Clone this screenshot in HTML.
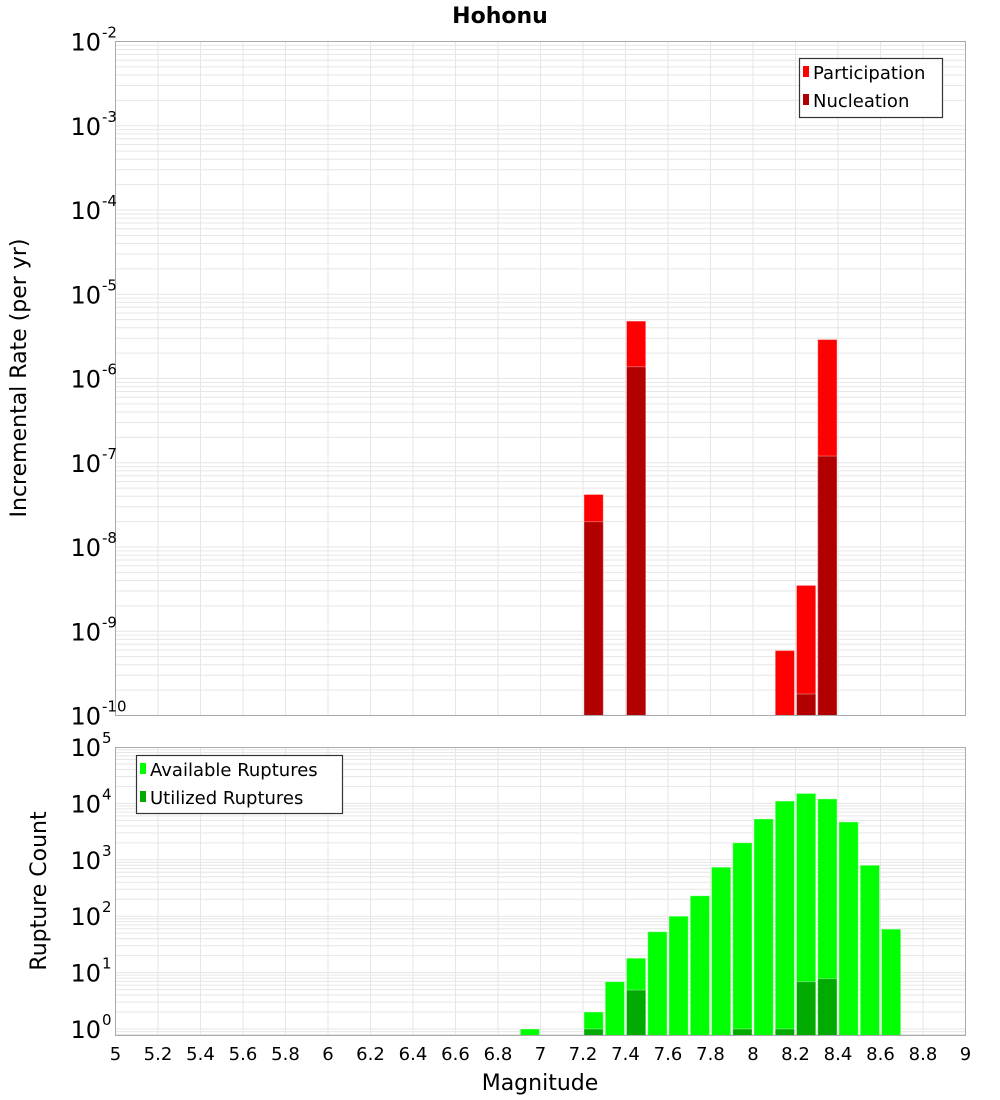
<!DOCTYPE html>
<html><head><meta charset="utf-8"><style>
body{margin:0;background:#fff;}
svg{display:block;font-family:"DejaVu Sans","Liberation Sans",sans-serif;}
</style></head><body>
<svg id="chart" width="1000" height="1100" viewBox="0 0 1000 1100" xmlns="http://www.w3.org/2000/svg">
<text x="500" y="23" text-anchor="middle" font-size="22" font-weight="bold">Hohonu</text>
<g id="top"></g><g id="bot"></g>
<text transform="translate(26,378) rotate(-90)" text-anchor="middle" font-size="22">Incremental Rate (per yr)</text>
<text transform="translate(46,891) rotate(-90)" text-anchor="middle" font-size="22">Rupture Count</text>
<text x="540" y="1090" text-anchor="middle" font-size="22">Magnitude</text>
</svg>
<script>
const partMags=[7.25,7.45,8.15,8.25,8.35];
const partVals=[4.2e-8,4.8e-6,5.9e-10,3.5e-9,2.9e-6];
const nucMags=[7.25,7.45,8.25,8.35];
const nucVals=[2.0e-8,1.38e-6,1.8e-10,1.2e-7];
const availMags=[6.95,7.25,7.35,7.45,7.55,7.65,7.75,7.85,7.95,8.05,8.15,8.25,8.35,8.45,8.55,8.65];
const availVals=[1,2,6.9,18,53,100,230,740,2000,5300,11000,15000,12000,4700,800,59];
const utilMags=[7.25,7.45,7.95,8.15,8.25,8.35];
const utilVals=[1,4.9,1,1,6.9,7.8];
const xTicks=["5","5.2","5.4","5.6","5.8","6","6.2","6.4","6.6","6.8","7","7.2","7.4","7.6","7.8","8","8.2","8.4","8.6","8.8","9"];
const topExps=[-2,-3,-4,-5,-6,-7,-8,-9,-10];
const botExps=[5,4,3,2,1,0];

const NS="http://www.w3.org/2000/svg";
const X0=115.5,X1=965.5;
const xs=m=>X0+(m-5)/4*(X1-X0);
function el(p,t,a){const e=document.createElementNS(NS,t);for(const k in a)e.setAttribute(k,a[k]);p.appendChild(e);return e;}
function panel(g,top,bottom,yOfExp,minE,maxE,name){
  // grid
  for(let e=Math.floor(minE);e<maxE;e++){for(let k=1;k<10;k++){const y=yOfExp(e+Math.log10(k));if(y<top-0.5||y>bottom+0.5)continue;
    const l=el(g,"line",{x1:X0,x2:X1,y1:y,y2:y,stroke:"#e6e6e6","stroke-width":1});
    
    }}
  xTicks.forEach(t=>{const x=xs(parseFloat(t));
    const l=el(g,"line",{x1:x,x2:x,y1:top,y2:bottom,stroke:"#e6e6e6","stroke-width":1});
    
    });
}
function bars(g,mags,vals,yOf,bottom,color,name){
  mags.forEach((m,i)=>{const y=yOf(vals[i]);const x=xs(m-0.05)+1,w=xs(m+0.05)-xs(m-0.05)-2;
    const r=el(g,"rect",{x:x,y:y,width:w,height:bottom-y,fill:color,stroke:"rgba(255,255,255,0.35)","stroke-width":1});
    
    });
}
function frame(g,top,bottom,name){
  const r=el(g,"rect",{x:X0,y:top,width:X1-X0,height:bottom-top,fill:"none",stroke:"#aaa","stroke-width":1});
  
  
}
function ylabel(g,y,e,name){
  const t=el(g,"text",{x:101,y:y+9,"text-anchor":"end","font-size":24});t.textContent="10";
  
  
  const s=el(g,"text",{x:102,y:y-4,"font-size":15});s.textContent=String(e);
  
  
}
// top panel
const T0=41.5,T1=715.5;
const tyE=e=>T0+(-2-e)*((T1-T0)/8);
const ty=v=>tyE(Math.log10(v));
const gt=document.getElementById("top");
panel(gt,T0,T1,tyE,-10,-2,"top");
bars(gt,partMags,partVals,ty,T1,"#ff0000","participation-bar");
bars(gt,nucMags,nucVals,ty,T1,"#b20000","nucleation-bar");
frame(gt,T0,T1,"top");
topExps.forEach(e=>ylabel(gt,tyE(e),e,"top"));
// legend top
(function(){const lg=el(gt,"g",{});
 el(lg,"rect",{x:799.5,y:58.5,width:143,height:59,fill:"#fff",stroke:"#333","stroke-width":1.2});
 [["Participation","#ff0000",73],["Nucleation","#b20000",101]].forEach(([n,c,y])=>{
  const s=el(lg,"rect",{x:803,y:y-7,width:6,height:11,fill:c});
  
  const t=el(lg,"text",{x:813,y:y+6,"font-size":18});t.textContent=n;
  });})();
// bottom panel
const B0=747.5,B1=1035.5,BD=56.4;
const byE=e=>1029-e*BD;
const by=v=>byE(Math.log10(v));
const gb=document.getElementById("bot");
panel(gb,B0,B1,byE,-1,5,"bottom");
bars(gb,availMags,availVals,by,B1,"#00ff00","available-bar");
bars(gb,utilMags,utilVals,by,B1,"#00aa00","utilized-bar");
frame(gb,B0,B1,"bottom");
botExps.forEach(e=>ylabel(gb,byE(e),e,"bottom"));
(function(){const lg=el(gb,"g",{});
 el(lg,"rect",{x:136.5,y:755.5,width:206,height:58,fill:"#fff",stroke:"#333","stroke-width":1.2});
 [["Available Ruptures","#00ff00",770],["Utilized Ruptures","#00aa00",798]].forEach(([n,c,y])=>{
  const s=el(lg,"rect",{x:140,y:y-7,width:6,height:11,fill:c});
  
  const t=el(lg,"text",{x:150,y:y+6,"font-size":18});t.textContent=n;
  });})();
xTicks.forEach(t=>{const e=el(gb,"text",{x:xs(parseFloat(t)),y:1060,"text-anchor":"middle","font-size":18});e.textContent=t;
  
  });
</script>
</body></html>
